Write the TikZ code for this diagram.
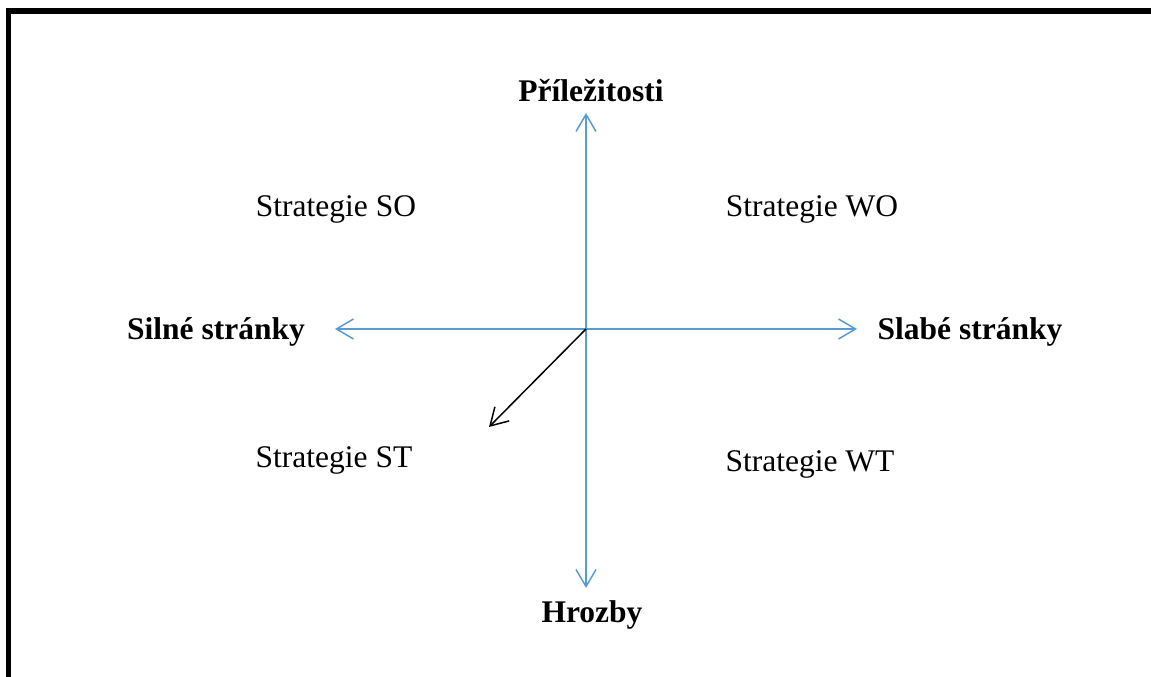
\documentclass[tikz,border=0pt]{standalone}
\usepackage{fontspec}
\setmainfont{Liberation Serif}
\usetikzlibrary{arrows.meta}
\definecolor{axisblue}{RGB}{91,155,213}
\begin{document}
\begin{tikzpicture}[x=1pt,y=-1pt,
  axis/.style={draw=axisblue,line width=1.5pt,-{Straight Barb[length=17pt,width=20pt]}},
  diag/.style={draw=black,line width=1.5pt,-{Straight Barb[length=17pt,width=20pt]}},
  lbl/.style={font=\fontsize{31.5}{36}\selectfont, anchor=base, inner sep=0pt},
  hd/.style={lbl,font=\fontsize{31.5}{36}\selectfont\bfseries},
  frameline/.style={draw=black,line width=5.5pt}]
\useasboundingbox[fill=white] (0,0) rectangle (1151,677);
% frame
\coordinate (fbl) at (8.5,690);
\coordinate (ftl) at (8.5,11);
\coordinate (ftr) at (1160,11);
\draw[frameline] (fbl) -- (ftl) -- (ftr);
% axes
\coordinate (c) at (586,329);
\coordinate (top) at (586,113);
\coordinate (bot) at (586,588);
\coordinate (left) at (335,329);
\coordinate (right) at (857,329);
\coordinate (diagend) at (489,427);
\draw[axis] (c) -- (top);
\draw[axis] (c) -- (bot);
\draw[axis] (c) -- (left);
\draw[axis] (c) -- (right);
\draw[diag] (c) -- (diagend);
% labels
\node[hd] (pril) at (591,101) {Příležitosti};
\node[hd] (hroz) at (592,622) {Hrozby};
\node[hd] (siln) at (216,339) {Silné stránky};
\node[hd] (slab) at (970,339) {Slabé stránky};
\node[lbl] (so) at (336,216) {Strategie SO};
\node[lbl] (wo) at (812,216) {Strategie WO};
\node[lbl] (st) at (334,467) {Strategie ST};
\node[lbl] (wt) at (810,471) {Strategie WT};
\end{tikzpicture}
\end{document}
